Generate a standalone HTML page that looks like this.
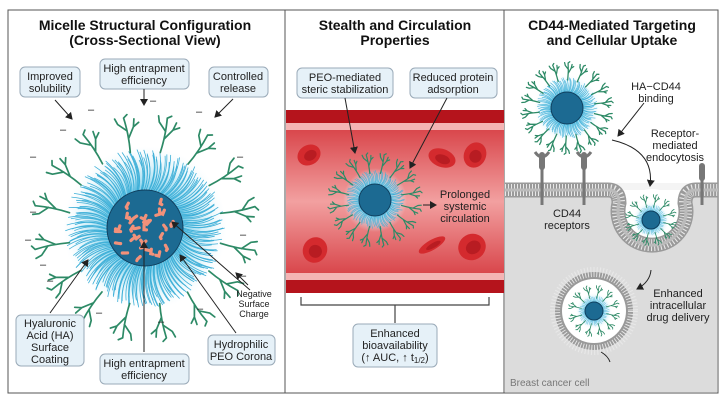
<!DOCTYPE html>
<html><head><meta charset="utf-8"><style>
html,body{margin:0;padding:0;background:#fff;width:727px;height:404px;overflow:hidden}
svg text{font-family:"Liberation Sans",sans-serif}
</style></head><body>
<svg id="s" width="727" height="404" viewBox="0 0 727 404" xmlns="http://www.w3.org/2000/svg">
<defs>
<marker id="ar" markerWidth="8" markerHeight="8" refX="6" refY="4" orient="auto" markerUnits="userSpaceOnUse"><path d="M0,0 L7,4 L0,8 Z" fill="#222"/></marker>
<linearGradient id="vg" x1="0" y1="0" x2="0" y2="1"><stop offset="0" stop-color="#d9474c"/><stop offset="0.5" stop-color="#f2a0a0"/><stop offset="1" stop-color="#d9474c"/></linearGradient>
<radialGradient id="glow"><stop offset="0.5" stop-color="#8fd6ee"/><stop offset="1" stop-color="#e6f6fb" stop-opacity="0"/></radialGradient>
</defs>
<rect x="0" y="0" width="727" height="404" fill="#fff"/>
<rect x="8" y="10" width="277" height="383" fill="#fff" stroke="#555" stroke-width="1"/>
<rect x="285" y="10" width="219" height="383" fill="#fff" stroke="#555" stroke-width="1"/>
<rect x="504" y="10" width="214" height="383" fill="#fff" stroke="#555" stroke-width="1"/>
<rect x="286" y="110" width="218" height="183" fill="#b5141c"/>
<rect x="286" y="123" width="218" height="157" fill="#f4b4b4"/>
<rect x="286" y="130" width="218" height="143" fill="url(#vg)"/>
<rect x="505" y="190" width="212" height="202" fill="#dcdcdc"/>
<g id="g"></g>
<g font-weight="bold" font-size="14" text-anchor="middle" fill="#111">
<text x="145" y="30">Micelle Structural Configuration</text>
<text x="145" y="45">(Cross-Sectional View)</text>
<text x="395" y="30">Stealth and Circulation</text>
<text x="395" y="45">Properties</text>
<text x="612" y="30">CD44-Mediated Targeting</text>
<text x="612" y="45">and Cellular Uptake</text>
</g>
<g fill="#e6f1f8" stroke="#9aaab8" stroke-width="1">
<rect x="20" y="67" width="60" height="30" rx="5"/>
<rect x="100" y="59" width="89" height="30" rx="5"/>
<rect x="209" y="67" width="59" height="30" rx="5"/>
<rect x="16" y="315" width="68" height="51" rx="5"/>
<rect x="100" y="354" width="89" height="30" rx="5"/>
<rect x="208" y="335" width="67" height="30" rx="5"/>
<rect x="297" y="68" width="96" height="30" rx="5"/>
<rect x="410" y="68" width="87" height="30" rx="5"/>
<rect x="353" y="324" width="84" height="43" rx="5"/>
</g>
<g font-size="11" text-anchor="middle" fill="#222">
<text x="50" y="80">Improved</text><text x="50" y="92">solubility</text>
<text x="144" y="72">High entrapment</text><text x="144" y="84">efficiency</text>
<text x="238" y="80">Controlled</text><text x="238" y="92">release</text>
<text x="50" y="327">Hyaluronic</text><text x="50" y="339">Acid (HA)</text><text x="50" y="351">Surface</text><text x="50" y="363">Coating</text>
<text x="144" y="367">High entrapment</text><text x="144" y="379">efficiency</text>
<text x="241" y="348">Hydrophilic</text><text x="241" y="360">PEO Corona</text>
<text x="345" y="81">PEO-mediated</text><text x="345" y="93">steric stabilization</text>
<text x="453" y="81">Reduced protein</text><text x="453" y="93">adsorption</text>
<text x="395" y="337">Enhanced</text><text x="395" y="349">bioavailability</text><text x="395" y="361">(↑ AUC, ↑ t<tspan font-size="8" dy="2">1/2</tspan><tspan dy="-2">)</tspan></text>
<text x="465" y="198">Prolonged</text><text x="465" y="210">systemic</text><text x="465" y="222">circulation</text>
<text x="656" y="90">HA−CD44</text><text x="656" y="102">binding</text>
<text x="675" y="137">Receptor-</text><text x="675" y="149">mediated</text><text x="675" y="161">endocytosis</text>
<text x="567" y="217">CD44</text><text x="567" y="229">receptors</text>
<text x="678" y="297">Enhanced</text><text x="678" y="309">intracellular</text><text x="678" y="321">drug delivery</text>
</g>
<g font-size="9" text-anchor="middle" fill="#222"><text x="254" y="297">Negative</text><text x="254" y="307">Surface</text><text x="254" y="317">Charge</text></g>
<text x="510" y="386" font-size="10" fill="#777">Breast cancer cell</text>
<g stroke="#222" stroke-width="1" fill="none" marker-end="url(#ar)">
<line x1="55" y1="100" x2="72" y2="119"/>
<line x1="144" y1="89" x2="144" y2="105"/>
<line x1="233" y1="99" x2="215" y2="117"/>
<line x1="50" y1="313" x2="88" y2="260"/>
<line x1="144" y1="352" x2="144" y2="242"/>
<line x1="236" y1="333" x2="180" y2="255"/>
<line x1="250" y1="290" x2="172" y2="222"/>
<line x1="248" y1="285" x2="236" y2="273"/>
<line x1="345" y1="98" x2="355" y2="153"/>
<line x1="447" y1="98" x2="410" y2="168"/>
<line x1="423" y1="205" x2="436" y2="205"/>
<line x1="644" y1="103" x2="618" y2="136"/>
<path d="M612,140 Q655,150 650,186"/>
<path d="M651,270 Q650,282 637,289"/>
</g>
<path d="M601,352 Q608,356 610,362" stroke="#222" fill="none"/>
<g stroke="#444" stroke-width="1.2" fill="none"><path d="M301,297 V305 H489 V297 M395,305 V323"/></g>
<g font-size="11" fill="#222"><text x="30" y="160">–</text><text x="60" y="133">–</text><text x="88" y="113">–</text><text x="150" y="104">–</text><text x="196" y="115">–</text><text x="237" y="160">–</text><text x="30" y="215">–</text><text x="40" y="268">–</text><text x="47" y="284">–</text><text x="96" y="316">–</text><text x="158" y="325">–</text><text x="197" y="312">–</text><text x="240" y="238">–</text><text x="240" y="279">–</text><text x="25" y="243">–</text></g>
</svg>
<script>
var NS="http://www.w3.org/2000/svg",G=document.getElementById('g');
function el(t,a){var e=document.createElementNS(NS,t);for(var k in a)e.setAttribute(k,a[k]);G.appendChild(e);return e;}
function rnd(i){var x=Math.sin(i*12.9898)*43758.5453;return x-Math.floor(x);}
function micelle(cx,cy,rc,rco,rha,nHA,sw,drug,k){
 el('circle',{cx:cx,cy:cy,r:rco+2,fill:'url(#glow)'});
 var n=Math.round(rco*3.2);
 for(var i=0;i<n;i++){var a=i/n*Math.PI*2+rnd(i)*0.05,r2=rco-rnd(i+7)*rco*0.15;
  var x1=cx+Math.cos(a)*rc,y1=cy+Math.sin(a)*rc,x2=cx+Math.cos(a)*r2,y2=cy+Math.sin(a)*r2;
  var b=a+0.12;var mx=cx+Math.cos(b)*(rc+r2)/2,my=cy+Math.sin(b)*(rc+r2)/2;
  el('path',{d:'M'+x1+','+y1+' Q'+mx+','+my+' '+x2+','+y2,stroke:'#3fb0d8','stroke-width':sw*0.8,fill:'none'});}
 for(var j=0;j<nHA;j++){var a=j/nHA*Math.PI*2+0.2,r1=rco-3,L=rha-r1;
  var ux=Math.cos(a),uy=Math.sin(a),vx=-uy,vy=ux;
  var P=function(t,s){return (cx+ux*(r1+L*t)+vx*s*k).toFixed(1)+','+(cy+uy*(r1+L*t)+vy*s*k).toFixed(1);};
  var d='M'+P(0,0)+' Q'+P(0.5,2)+' '+P(1,0)+
   ' M'+P(0.4,1)+' L'+P(0.7,8)+' L'+P(0.92,10)+' M'+P(0.7,8)+' L'+P(0.8,14)+
   ' M'+P(0.62,1)+' L'+P(0.85,-7)+' L'+P(1.02,-9)+' M'+P(1,0)+' L'+P(1.08,4);
  el('path',{d:d,stroke:'#2d8a66','stroke-width':sw*1.7,fill:'none','stroke-linecap':'round','stroke-linejoin':'round'});}
 el('circle',{cx:cx,cy:cy,r:rc,fill:'#1c6a92',stroke:'#0f3f5e','stroke-width':1});
 if(drug){for(var q=0;q<30;q++){var rr=Math.sqrt(rnd(q+100))*(rc-7),aa=rnd(q+200)*6.283;
  var x=cx+Math.cos(aa)*rr,y=cy+Math.sin(aa)*rr,o=rnd(q+300)*6.28;
  el('path',{d:'M'+(x-3*Math.cos(o))+','+(y-3*Math.sin(o))+' L'+x+','+(y+1.5)+' L'+(x+3*Math.cos(o+1))+','+(y+3*Math.sin(o+1)),stroke:'#f2917a','stroke-width':3.2,fill:'none','stroke-linecap':'round'});}}
}
micelle(145,228,38,80,112,16,1,true,1);
function rbc(x,y,rx,ry,rot){el('ellipse',{cx:x,cy:y,rx:rx,ry:ry,fill:'#d42a2e',transform:'rotate('+rot+' '+x+' '+y+')'});
 el('ellipse',{cx:x+1,cy:y+1,rx:rx*0.55,ry:ry*0.5,fill:'#b81c22',transform:'rotate('+rot+' '+x+' '+y+')'});}
rbc(309,155,12,10,-30);rbc(442,158,14,9,20);rbc(475,155,11,13,25);rbc(315,250,12,13,30);rbc(432,245,15,5,-30);rbc(472,247,14,13,-30);
micelle(375,200,16,30,46,16,0.7,false,0.45);
micelle(567,108,16,31,45,18,0.75,false,0.4);
function memb(d){el('path',{d:d,stroke:'#9a9a9a','stroke-width':15,fill:'none'});el('path',{d:d,stroke:'#e8e8e8','stroke-width':12,fill:'none','stroke-dasharray':'1 2'});el('path',{d:d,stroke:'#bbb','stroke-width':3,fill:'none'});}
el('rect',{x:505,y:183,width:212,height:14,fill:'#f4f4f4'});
el('rect',{x:621,y:190,width:62,height:30,fill:'#fff'});
el('circle',{cx:652,cy:220,r:31,fill:'#fff'});
memb('M505,190 H608 Q619,190 619,203 A34,34 0 1 0 685,203 Q685,190 696,190 H718');
el('circle',{cx:594,cy:311,r:39,fill:'#9a9a9a'});el('circle',{cx:594,cy:311,r:39,fill:'none',stroke:'#e8e8e8','stroke-width':10,'stroke-dasharray':'1 2'});
el('circle',{cx:594,cy:311,r:32,fill:'#fff'});
micelle(651,220,9,16,25,12,0.5,false,0.3);
micelle(594,311,9,16,25,12,0.5,false,0.3);
function rec(x,ytop,yb,cup){el('line',{x1:x,y1:ytop+8,x2:x,y2:yb,stroke:'#777','stroke-width':3});
 el('rect',{x:x-3,y:ytop,width:6,height:18,rx:3,fill:'#777'});
 if(cup)el('path',{d:'M'+(x-7)+','+ytop+' Q'+x+','+(ytop+10)+' '+(x+7)+','+ytop,stroke:'#777','stroke-width':3,fill:'none'});}
rec(542,152,205,true);rec(584,152,205,true);rec(702,163,205,false);
</script>
</body></html>
